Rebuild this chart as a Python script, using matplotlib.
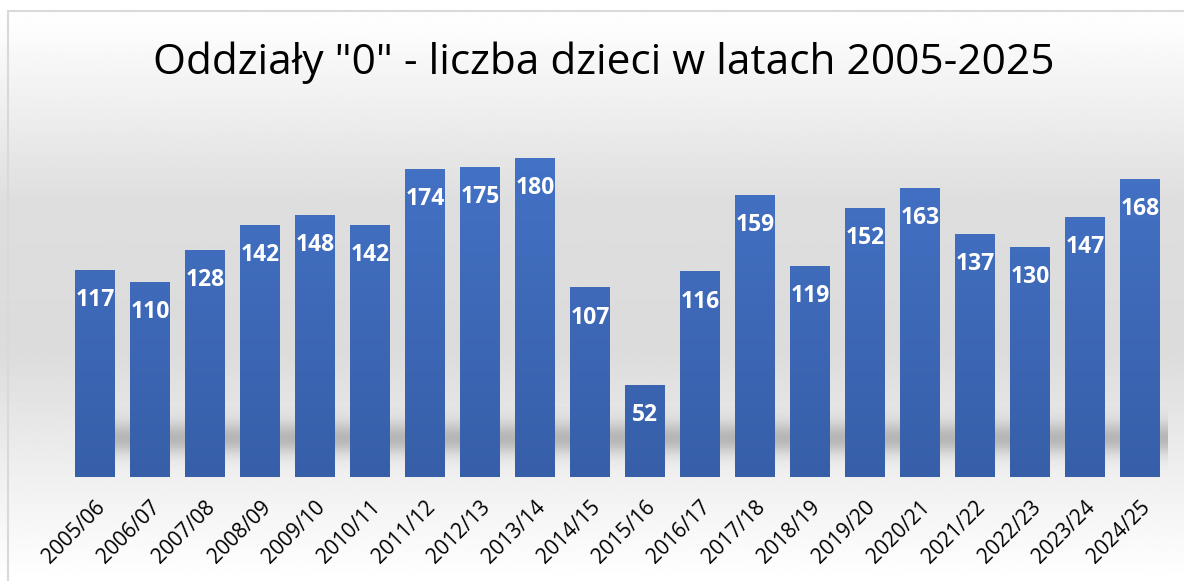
import numpy as np
import matplotlib.pyplot as plt
from matplotlib.patches import Rectangle
from matplotlib.colors import LinearSegmentedColormap

years = ['2005/06', '2006/07', '2007/08', '2008/09', '2009/10', '2010/11', '2011/12',
         '2012/13', '2013/14', '2014/15', '2015/16', '2016/17', '2017/18', '2018/19',
         '2019/20', '2020/21', '2021/22', '2022/23', '2023/24', '2024/25']
children = [117, 110, 128, 142, 148, 142, 174, 175, 180, 107, 52, 116, 159, 119,
            152, 163, 137, 130, 147, 168]

W, H = 1184, 581
fig = plt.figure(figsize=(W / 100, H / 100), dpi=100)

# background gradient of the chart area
bg = fig.add_axes([0, 0, 1, 1], zorder=0)
yy = np.linspace(0, 1, 300)  # 0 = top
shade = np.interp(yy, [0, 0.05, 0.35, 0.6, 0.82, 1.0], [1.0, 0.99, 0.87, 0.86, 0.94, 1.0])
bg.imshow(np.tile(shade[:, None], (1, 2)), cmap='gray', vmin=0, vmax=1,
          aspect='auto', extent=[0, 1, 0, 1])
bg.add_patch(Rectangle((8 / W, -0.1), 1.2, 1.1 - 11 / H, fill=False,
                       edgecolor='#d9d9d9', lw=1.5, transform=bg.transAxes))
bg.set_xlim(0, 1)
bg.set_ylim(0, 1)
bg.axis('off')

ax = fig.add_axes([67.5 / W, (H - 477) / H, 1100 / W, 360 / H], zorder=1)
ax.patch.set_alpha(0)
x = np.arange(len(years))
ymax = 360 / 1.772
ax.set_xlim(-0.5, len(years) - 0.5)
ax.set_ylim(0, ymax)

# soft shadow band behind the bars
sy = np.linspace(0, 1, 100)
band = np.exp(-((sy - 0.5) / 0.25) ** 2)
rgba = np.zeros((100, 2, 4))
rgba[..., :3] = 0.55
rgba[..., 3] = (band * 0.55)[:, None]
ax.imshow(rgba, aspect='auto', extent=[-0.3, len(years) - 0.2, 4, 40], zorder=1)

bars = ax.bar(x, children, width=0.727, color='none', zorder=2)
grad = np.linspace(1, 0, 100)[:, None]
cmap = LinearSegmentedColormap.from_list('bar', ['#375fa9', '#4574c8'])
for b, v in zip(bars, children):
    im = ax.imshow(grad, cmap=cmap, aspect='auto', zorder=2, vmin=0, vmax=1,
                   extent=[b.get_x(), b.get_x() + b.get_width(), 0, ymax])
    im.set_clip_path(b)
    ax.text(b.get_x() + b.get_width() / 2, v - 17, str(v), ha='center', va='center',
            color='white', fontsize=16.5, fontweight='bold', family='Open Sans', zorder=3)

ax.set_xticks(x)
ax.set_xticklabels(years, rotation=45, ha='right', rotation_mode='anchor',
                   fontsize=15, family='Open Sans')
ax.tick_params(axis='x', length=0, pad=14)
ax.set_yticks([])
for s in ax.spines.values():
    s.set_visible(False)

fig.text(604 / W, 1 - 63 / H, 'Oddziały "0" - liczba dzieci w latach 2005-2025',
         ha='center', va='center', fontsize=30.5, family='Open Sans')

fig.savefig('out.png', dpi=100)
